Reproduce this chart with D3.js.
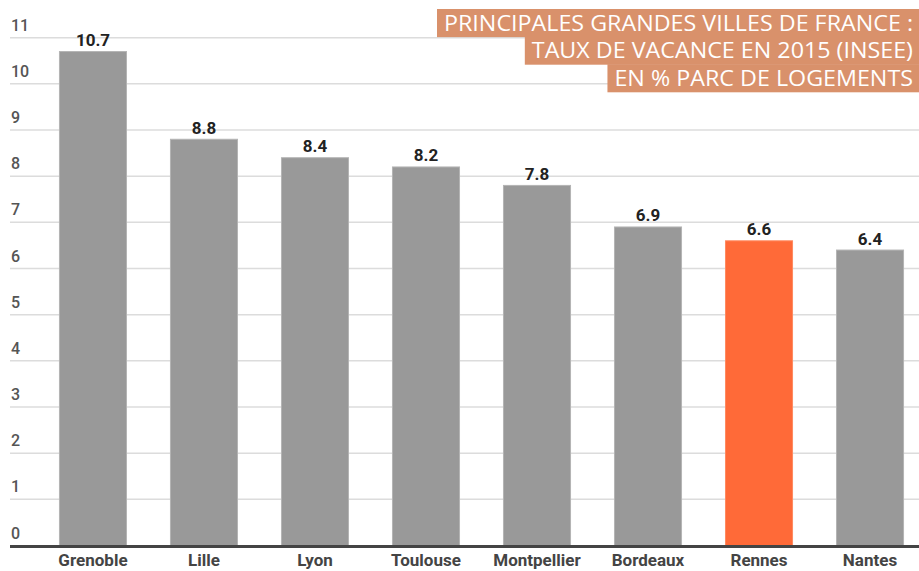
<!DOCTYPE html>
<html>
<head>
<meta charset="utf-8">
<script src="https://cdn.jsdelivr.net/npm/d3@7"></script>
<style>
  html, body { margin: 0; padding: 0; background: #fff; }
  svg { display: block; }
</style>
</head>
<body>
<svg id="chart" width="919" height="571"></svg>
<script>
const categories = ["Grenoble", "Lille", "Lyon", "Toulouse", "Montpellier", "Bordeaux", "Rennes", "Nantes"];
const values = [10.7, 8.8, 8.4, 8.2, 7.8, 6.9, 6.6, 6.4];
const highlight = "Rennes";
const yTicks = [0, 1, 2, 3, 4, 5, 6, 7, 8, 9, 10, 11];
const titleLines = [
  "PRINCIPALES GRANDES VILLES DE FRANCE :",
  "TAUX DE VACANCE EN 2015 (INSEE)",
  "EN % PARC DE LOGEMENTS"
];

const svg = d3.select("#chart");
const W = 919, H = 571;

const y = d3.scaleLinear().domain([0, 11]).range([545.5, 37.7]);
const x = d3.scaleBand().domain(categories).range([16, 947]).padding(0.387);

// gridlines
const grid = svg.append("g");
grid.selectAll("line").data(yTicks.filter(d => d > 0)).join("line")
  .attr("x1", 10).attr("x2", W)
  .attr("y1", d => y(d)).attr("y2", d => y(d))
  .attr("stroke", "#dcdcdc").attr("stroke-width", 1.5);

// tick labels
svg.append("g").selectAll("text").data(yTicks).join("text")
  .attr("x", 11).attr("y", d => y(d) - 7)
  .attr("font-family", "Roboto").attr("font-weight", 500)
  .attr("font-size", 16).attr("fill", "#555")
  .text(d => d);

// bars
svg.append("g").selectAll("rect").data(values).join("rect")
  .attr("x", (d, i) => x(categories[i]) + 0.5)
  .attr("width", x.bandwidth() - 1)
  .attr("y", d => y(d))
  .attr("height", d => y(0) - y(d))
  .attr("fill", (d, i) => categories[i] === highlight ? "#ff6a38" : "#999999")
  .attr("stroke", (d, i) => categories[i] === highlight ? "#ff8a60" : "#b4b4b4")
  .attr("stroke-width", 1);

// value labels
svg.append("g").selectAll("text").data(values).join("text")
  .attr("x", (d, i) => x(categories[i]) + x.bandwidth() / 2)
  .attr("y", d => y(d) - 5.5)
  .attr("text-anchor", "middle")
  .attr("font-family", "Roboto").attr("font-weight", 700)
  .attr("font-size", 17).attr("fill", "#222")
  .text(d => d.toFixed(1));

// baseline
svg.append("line")
  .attr("x1", 10).attr("x2", W)
  .attr("y1", y(0) + 1).attr("y2", y(0) + 1)
  .attr("stroke", "#444").attr("stroke-width", 3);

// category labels
svg.append("g").selectAll("text").data(categories).join("text")
  .attr("x", d => x(d) + x.bandwidth() / 2)
  .attr("y", 566)
  .attr("text-anchor", "middle")
  .attr("font-family", "Roboto").attr("font-weight", 700)
  .attr("font-size", 17).attr("fill", "#444")
  .text(d => d);

// title
const tg = svg.append("g");
const lineH = 27.6, top0 = 9, rightX = 913, targetW1 = 469;
const texts = titleLines.map((t, i) => tg.append("text")
  .attr("x", rightX).attr("y", top0 + lineH * (i + 1) - 6)
  .attr("text-anchor", "end")
  .attr("font-family", "Open Sans").attr("font-size", 22)
  .attr("fill", "#fff").text(t));
const natural = texts.map(t => t.node().getComputedTextLength());
const factor = targetW1 / natural[0];
texts.forEach((t, i) => {
  const w = natural[i] * factor;
  t.attr("textLength", w).attr("lengthAdjust", "spacingAndGlyphs");
  tg.insert("rect", "text")
    .attr("x", rightX - w - 7).attr("y", top0 + lineH * i)
    .attr("width", W - (rightX - w - 7)).attr("height", lineH + 0.5)
    .attr("fill", "#d9916b");
});
</script>
</body>
</html>
